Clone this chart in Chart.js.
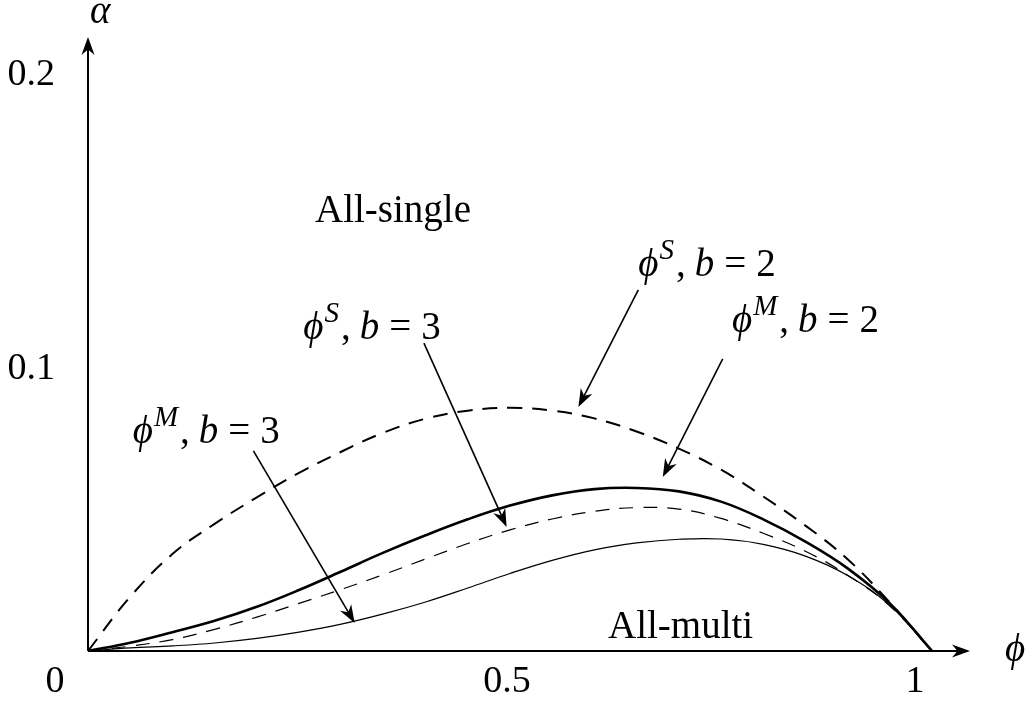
<!DOCTYPE html>
<html>
<head>
<meta charset="utf-8">
<script src="https://cdn.jsdelivr.net/npm/chart.js@4.4.1/dist/chart.umd.min.js"></script>
<style>
  html, body { margin: 0; padding: 0; background: #fff; }
  #wrap { width: 1034px; height: 704px; position: relative; }
</style>
</head>
<body>
<div id="wrap"><canvas id="chart"></canvas></div>
<script>
// phi grid and alpha values
const phi = [0, 0.05, 0.1, 0.15, 0.2, 0.25, 0.3, 0.35, 0.4, 0.45, 0.5,
             0.55, 0.6, 0.65, 0.7, 0.75, 0.8, 0.85, 0.9, 0.95, 1];
const singleB2 = [0, 0.019, 0.0340, 0.0446, 0.0539, 0.0625, 0.0699, 0.0766, 0.0815, 0.0843, 0.0853,
                  0.0843, 0.0816, 0.0770, 0.0710, 0.0636, 0.0542, 0.0440, 0.0322, 0.0170, 0];
const multiB2 = [0, 0.0029, 0.0066, 0.0106, 0.0155, 0.0214, 0.0279, 0.0345, 0.0406, 0.0462, 0.0510,
                 0.0546, 0.0568, 0.0572, 0.0560, 0.0524, 0.0462, 0.0384, 0.0290, 0.0167, 0];
const singleB3 = [0, 0.0017, 0.0040, 0.0076, 0.0119, 0.0167, 0.0216, 0.0268, 0.0323, 0.0377, 0.0425,
                  0.0463, 0.0490, 0.0503, 0.0498, 0.0465, 0.0413, 0.0350, 0.0266, 0.0158, 0];
const multiB3 = [0, 0.0011, 0.0018, 0.0028, 0.0044, 0.0066, 0.0094, 0.0130, 0.0172, 0.0221, 0.0272,
                 0.0318, 0.0355, 0.0379, 0.0392, 0.0393, 0.0374, 0.0333, 0.0265, 0.0160, 0];

const xTicks = [0, 0.5, 1];
const xTickLabels = ["0", "0.5", "1"];
const yTicks = [0.1, 0.2];
const yTickLabels = ["0.1", "0.2"];

// annotation arrows: [from phi, from alpha, to phi, to alpha]
const arrows = [
  [0.196, 0.0702, 0.316, 0.0098],   // phi^M, b=3
  [0.398, 0.1080, 0.496, 0.0435],   // phi^S, b=3
  [0.652, 0.1267, 0.581, 0.0856],   // phi^S, b=2
  [0.752, 0.1025, 0.681, 0.0610],   // phi^M, b=2
];
// curve labels: [sup, b value, phi, alpha] (left / baseline anchor)
const curveLabels = [
  ["M", "3", 0.053, 0.0730],
  ["S", "3", 0.255, 0.1095],
  ["S", "2", 0.652, 0.1316],
  ["M", "2", 0.763, 0.1119],
];

const SERIF = '"Liberation Serif", "DejaVu Serif", serif';
const FS = 39;

function line(label, values, width, dash) {
  return {
    label,
    data: phi.map((x, i) => ({ x, y: values[i] })),
    borderColor: "#000",
    borderWidth: width,
    borderDash: dash,
    pointRadius: 0,
    fill: false,
    tension: 0.4,
  };
}

function arrowHead(ctx, x1, y1, x2, y2, len, half) {
  const a = Math.atan2(y2 - y1, x2 - x1);
  ctx.beginPath();
  ctx.moveTo(x2, y2);
  ctx.lineTo(x2 - len * Math.cos(a) + half * Math.sin(a), y2 - len * Math.sin(a) - half * Math.cos(a));
  ctx.lineTo(x2 - 0.7 * len * Math.cos(a), y2 - 0.7 * len * Math.sin(a));
  ctx.lineTo(x2 - len * Math.cos(a) - half * Math.sin(a), y2 - len * Math.sin(a) + half * Math.cos(a));
  ctx.closePath();
  ctx.fill();
}

function drawMath(ctx, parts, x, y) {
  let cx = x;
  for (const p of parts) {
    const size = p.sup ? 29 : FS;
    ctx.font = `${p.it ? "italic " : ""}${size}px ${SERIF}`;
    ctx.fillText(p.t, cx, p.sup ? y - 17 : y);
    cx += ctx.measureText(p.t).width + (p.gap || 0);
  }
}

const decor = {
  id: "decor",
  afterDatasetsDraw(chart) {
    const { ctx, chartArea: ca, scales: { x, y } } = chart;
    const ox = x.getPixelForValue(0), oy = y.getPixelForValue(0);
    ctx.save();
    ctx.fillStyle = "#000";
    ctx.strokeStyle = "#000";

    // axes with arrow tips
    ctx.lineWidth = 2;
    ctx.setLineDash([]);
    ctx.beginPath();
    ctx.moveTo(ox, oy); ctx.lineTo(ca.right - 4, oy);
    ctx.moveTo(ox, oy); ctx.lineTo(ox, ca.top + 4);
    ctx.stroke();
    arrowHead(ctx, ox, oy, ca.right, oy, 18, 6.5);
    arrowHead(ctx, ox, oy, ox, ca.top, 18, 6.5);

    // tick labels
    ctx.font = `38px ${SERIF}`;
    ctx.textBaseline = "middle";
    ctx.textAlign = "right";
    yTicks.forEach((v, i) => {
      ctx.fillText(yTickLabels[i], ox - 33, y.getPixelForValue(v) + (i ? -6 : 3));
    });
    ctx.textAlign = "center";
    const xShift = [-33, -3, -17];
    xTicks.forEach((v, i) => {
      ctx.fillText(xTickLabels[i], x.getPixelForValue(v) + xShift[i], oy + 31);
    });

    // axis labels
    ctx.textAlign = "left";
    ctx.textBaseline = "alphabetic";
    ctx.font = `italic ${FS}px ${SERIF}`;
    ctx.fillText("α", ox + 2, ca.top - 14);
    ctx.fillText("ϕ", ca.right + 35, oy + 10);

    // region labels
    ctx.font = `${FS}px ${SERIF}`;
    ctx.fillText("All-single", 315, 222);
    ctx.fillText("All-multi", 608, 638);

    // arrows
    ctx.lineWidth = 1.6;
    for (const [a, b, c, d] of arrows) {
      const x1 = x.getPixelForValue(a), y1 = y.getPixelForValue(b);
      const x2 = x.getPixelForValue(c), y2 = y.getPixelForValue(d);
      const len = Math.hypot(x2 - x1, y2 - y1);
      ctx.beginPath();
      ctx.moveTo(x1, y1);
      ctx.lineTo(x2 - 10 * (x2 - x1) / len, y2 - 10 * (y2 - y1) / len);
      ctx.stroke();
      arrowHead(ctx, x1, y1, x2, y2, 18, 6.5);
    }

    // curve labels
    for (const [sup, bv, a, b] of curveLabels) {
      drawMath(ctx, [
        { t: "ϕ", it: true, gap: 1 },
        { t: sup, it: true, sup: true, gap: 2 },
        { t: ",", gap: 9 },
        { t: "b", it: true, gap: 10 },
        { t: "=", gap: 10 },
        { t: bv },
      ], x.getPixelForValue(a), y.getPixelForValue(b));
    }
    ctx.restore();
  },
};

new Chart(document.getElementById("chart"), {
  type: "line",
  data: {
    datasets: [
      line("phi^S, b=2", singleB2, 2, [15, 10]),
      line("phi^M, b=2", multiB2, 2.6, []),
      line("phi^S, b=3", singleB3, 1.2, [14, 10]),
      line("phi^M, b=3", multiB3, 1.2, []),
    ],
  },
  options: {
    animation: false,
    responsive: true,
    maintainAspectRatio: false,
    layout: { padding: { left: 88, right: 64, top: 37, bottom: 53 } },
    plugins: { legend: { display: false }, tooltip: { enabled: false } },
    scales: {
      x: { type: "linear", min: 0, max: 1.045, display: false },
      y: { type: "linear", min: 0, max: 0.2154, display: false },
    },
  },
  plugins: [decor],
});
</script>
</body>
</html>
